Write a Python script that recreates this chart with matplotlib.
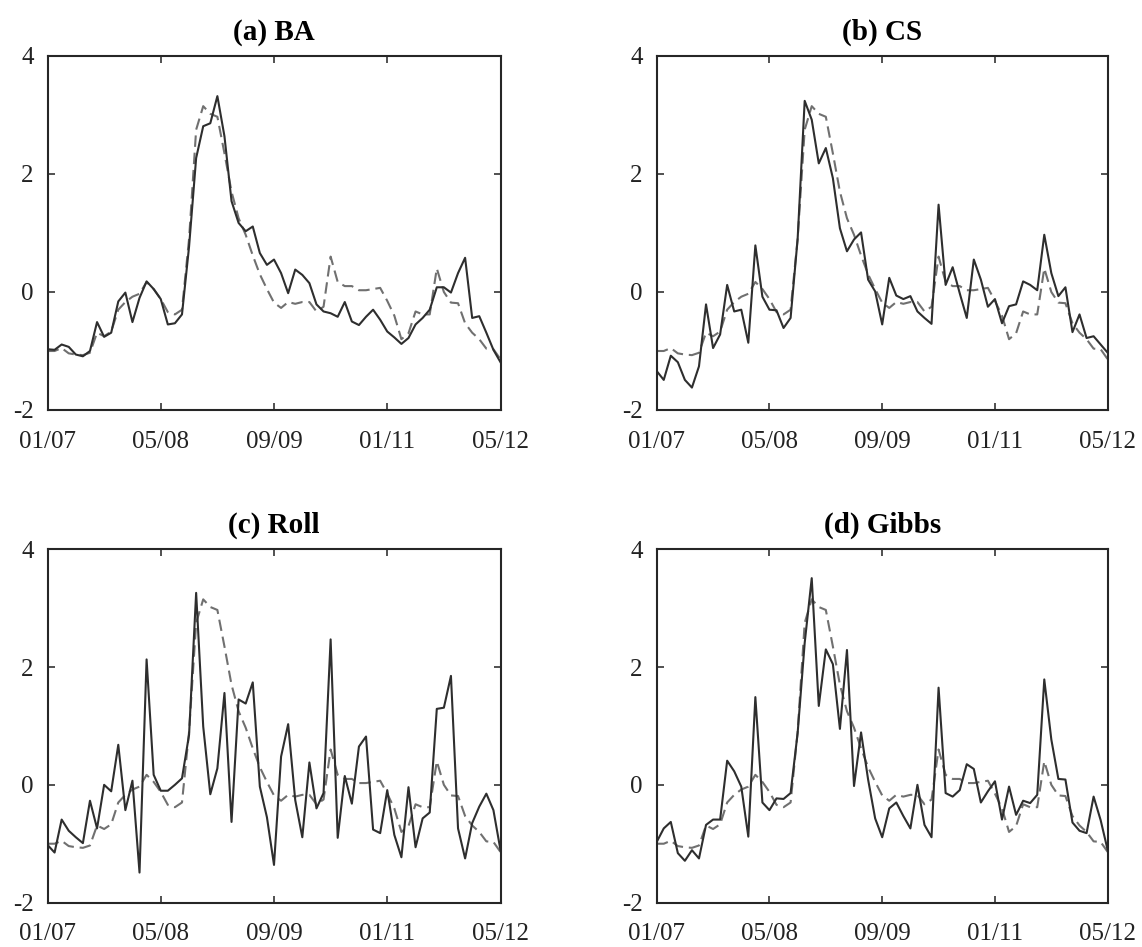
import numpy as np
import matplotlib
matplotlib.use("Agg")
import matplotlib.pyplot as plt

plt.rcParams['font.family'] = ['Liberation Serif', 'DejaVu Serif']

# months Jan 2007 .. May 2012
months = np.arange(65)
xtick_pos = [0, 16, 32, 48, 64]
xtick_labels = ['01/07', '05/08', '09/09', '01/11', '05/12']
ytick_vals = [-2, 0, 2, 4]
ytick_labels = ['-2', '0', '2', '4']
titles = ['(a) BA', '(b) CS', '(c) Roll', '(d) Gibbs']

benchmark = [-1.0, -1.0, -0.95, -1.04, -1.06, -1.07, -1.03, -0.69, -0.75, -0.67,
             -0.3, -0.17, -0.08, -0.03, 0.17, 0.05, -0.12, -0.34, -0.38, -0.3,
             0.9, 2.75, 3.15, 3.02, 2.97, 2.35, 1.7, 1.25, 0.97, 0.62,
             0.3, 0.05, -0.18, -0.27, -0.17, -0.2, -0.17, -0.17, -0.33, -0.25,
             0.6, 0.17, 0.1, 0.1, 0.03, 0.03, 0.05, 0.07, -0.15, -0.4,
             -0.8, -0.7, -0.33, -0.38, -0.38, 0.4, 0.0, -0.18, -0.19, -0.53,
             -0.69, -0.8, -0.96, -0.97, -1.14]

ba = [-0.97, -0.98, -0.89, -0.93, -1.06, -1.09, -1.0, -0.51, -0.76, -0.69,
      -0.16, -0.01, -0.51, -0.10, 0.18, 0.05, -0.12, -0.55, -0.53, -0.38,
      0.77, 2.27, 2.81, 2.86, 3.32, 2.64, 1.54, 1.17, 1.03, 1.11,
      0.66, 0.46, 0.55, 0.32, -0.02, 0.38, 0.29, 0.15, -0.21, -0.33,
      -0.36, -0.42, -0.17, -0.50, -0.56, -0.42, -0.30, -0.47, -0.67, -0.77,
      -0.88, -0.78, -0.55, -0.44, -0.30, 0.08, 0.08, -0.01, 0.32, 0.58,
      -0.44, -0.41, -0.69, -0.98, -1.19]

cs = [-1.34, -1.49, -1.08, -1.19, -1.49, -1.62, -1.26, -0.21, -0.95, -0.72,
      0.12, -0.33, -0.30, -0.86, 0.79, -0.08, -0.30, -0.31, -0.61, -0.44,
      0.9, 3.24, 2.92, 2.18, 2.44, 1.93, 1.08, 0.69, 0.89, 1.01,
      0.21, 0.01, -0.55, 0.24, -0.06, -0.12, -0.07, -0.33, -0.44, -0.54,
      1.48, 0.12, 0.42, -0.02, -0.44, 0.55, 0.21, -0.25, -0.12, -0.53,
      -0.24, -0.21, 0.18, 0.12, 0.03, 0.97, 0.32, -0.07, 0.08, -0.68,
      -0.38, -0.78, -0.75, -0.89, -1.03]

roll = [-1.02, -1.15, -0.59, -0.78, -0.89, -0.99, -0.27, -0.74, 0.0, -0.11,
        0.68, -0.43, 0.07, -1.49, 2.13, 0.17, -0.10, -0.10, 0.0, 0.11,
        0.85, 3.26, 0.99, -0.16, 0.28, 1.56, -0.63, 1.45, 1.38, 1.74,
        -0.03, -0.55, -1.36, 0.48, 1.03, -0.26, -0.89, 0.38, -0.40, -0.14,
        2.47, -0.90, 0.15, -0.32, 0.65, 0.82, -0.76, -0.82, -0.09, -0.85,
        -1.23, -0.04, -1.06, -0.57, -0.47, 1.29, 1.31, 1.85, -0.74, -1.25,
        -0.65, -0.37, -0.15, -0.43, -1.11]

gibbs = [-0.97, -0.74, -0.63, -1.16, -1.29, -1.11, -1.25, -0.68, -0.59, -0.59,
         0.41, 0.23, -0.03, -0.88, 1.49, -0.30, -0.43, -0.23, -0.24, -0.14,
         0.88, 2.41, 3.51, 1.34, 2.30, 2.05, 0.95, 2.29, -0.02, 0.89,
         0.09, -0.57, -0.89, -0.40, -0.30, -0.53, -0.74, 0.0, -0.68, -0.89,
         1.65, -0.14, -0.20, -0.09, 0.35, 0.27, -0.30, -0.11, 0.06, -0.59,
         -0.03, -0.51, -0.27, -0.31, -0.17, 1.79, 0.77, 0.10, 0.09, -0.64,
         -0.78, -0.82, -0.20, -0.60, -1.11]

series = [ba, cs, roll, gibbs]

fig = plt.figure(figsize=(11.42, 9.47), dpi=100)
W, H = 1142, 947
boxes = [(47.5, 56, 500.5, 410), (656.7, 56, 1107.7, 410),
         (47.5, 549.3, 500.5, 902.6), (656.7, 549.3, 1107.7, 902.6)]

for (l, t, r, b), title, s in zip(boxes, titles, series):
    ax = fig.add_axes([l / W, 1 - b / H, (r - l) / W, (b - t) / H])
    ax.plot(months, benchmark, color='#707070', lw=1.5, ls=(0, (5.5, 2.8)))
    ax.plot(months, s, color='#2e2e2e', lw=1.5)
    ax.set_xlim(0, 64)
    ax.set_ylim(-2, 4)
    ax.set_xticks(xtick_pos)
    ax.set_xticklabels(xtick_labels)
    ax.set_yticks(ytick_vals)
    ax.set_yticklabels(ytick_labels)
    ax.tick_params(direction='in', top=True, right=True, length=5, width=1.1,
                   labelsize=18, colors='#222222')
    ax.tick_params(axis='x', pad=15)
    ax.tick_params(axis='y', pad=10)
    for sp in ax.spines.values():
        sp.set_linewidth(1.5)
        sp.set_color('#262626')
    ax.set_title(title, fontsize=21, fontweight='bold', pad=12)

fig.savefig('out.png', dpi=100)
